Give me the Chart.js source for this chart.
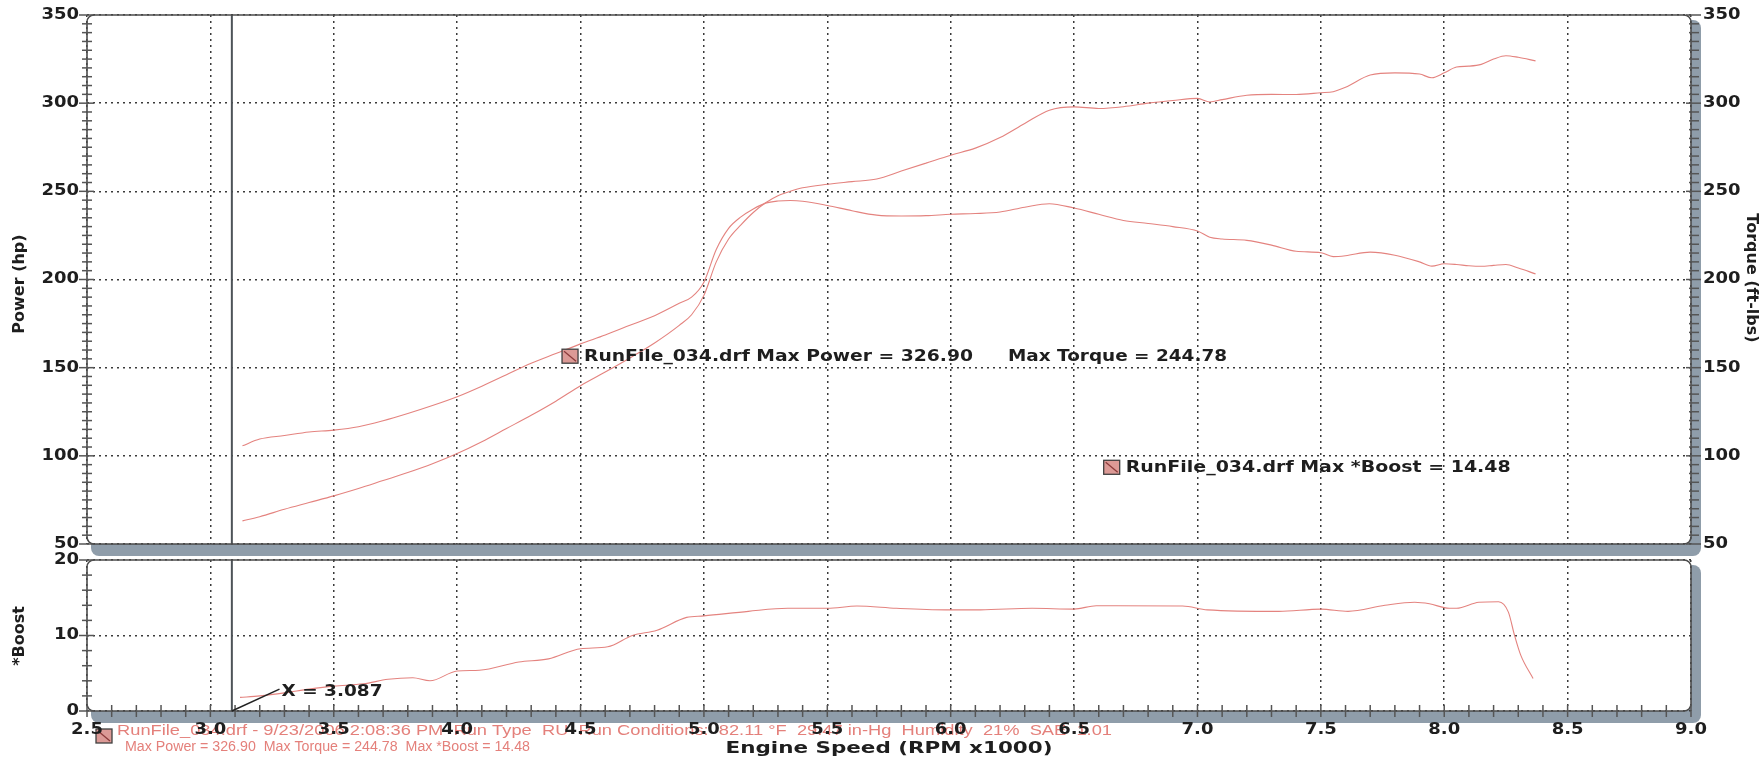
<!DOCTYPE html>
<html>
<head>
<meta charset="utf-8">
<title>Dyno run - RunFile_034</title>
<script src="https://cdn.jsdelivr.net/npm/chart.js@4.4.1/dist/chart.umd.min.js"></script>
<style>
  html, body { margin: 0; padding: 0; background: #fff; }
  #wrap { position: relative; width: 1764px; height: 763px; overflow: hidden; }
  #wrap canvas { position: absolute; left: 0; top: 0; }
</style>
</head>
<body>
<div id="wrap">
  <canvas id="dynoChart" width="1764" height="763"></canvas>
  <canvas id="boostChart" width="1764" height="763"></canvas>
</div>
<script>
// values (rpm in x1000)
const rpm = [3.13, 3.2, 3.3, 3.4, 3.5, 3.6, 3.7, 3.8, 3.9, 4.0,
  4.1, 4.2, 4.3, 4.4, 4.5, 4.6, 4.7, 4.8, 4.9, 4.95,
  5.0, 5.05, 5.1, 5.15, 5.2, 5.25, 5.3, 5.35, 5.4, 5.5,
  5.6, 5.7, 5.8, 5.9, 6.0, 6.1, 6.2, 6.3, 6.4, 6.5,
  6.6, 6.7, 6.8, 6.9, 7.0, 7.05, 7.1, 7.2, 7.3, 7.4,
  7.5, 7.55, 7.6, 7.7, 7.8, 7.9, 7.95, 8.0, 8.05, 8.1,
  8.15, 8.2, 8.25, 8.3, 8.37];
const powerHp = [63.1, 65.5, 69.7, 73.5, 77.3, 81.5, 86, 90.5, 95.5, 101.3,
  108, 115.5, 123, 131, 139.8, 147.5, 155.5, 164, 174, 180,
  191, 210, 223, 231, 238, 243.5, 247.5, 250, 252, 254,
  255.5, 257, 261.5, 266, 270.5, 274.5, 280.5, 288.5, 296, 297.9,
  297, 298, 300, 301.5, 302.7, 300.7, 302, 304.5, 305, 304.9,
  305.9, 306.5, 309, 316, 317.2, 316.5, 314.4, 317.2, 320.5, 321,
  322, 325, 326.9, 326, 324];
const torqueFt = [105.7, 109.5, 111.5, 113.5, 114.6, 116.5, 119.9, 124, 128.5, 133.5,
  139.5, 146, 152.5, 158, 163.5, 168.5, 174, 179.5, 186.5, 190,
  198.5, 217, 229, 235.5, 240, 243.3, 244.5, 244.78, 244.4, 242,
  239, 236.5, 236, 236.2, 237, 237.4, 238.3, 241, 243, 240.5,
  237, 233.5, 231.8, 230, 227.5, 224, 223, 222.2, 219.5, 216,
  215.2, 213, 213.5, 215.5, 213.8, 210, 207.6, 208.9, 208.5, 207.8,
  207.5, 208, 208.5, 206.5, 203.2];
const boostRpm = [3.12, 3.2, 3.3, 3.4, 3.5, 3.62, 3.72, 3.82, 3.89, 4.0,
  4.09, 4.25, 4.37, 4.5, 4.61, 4.71, 4.81, 4.93, 5.0, 5.18,
  5.34, 5.5, 5.62, 5.78, 5.98, 6.12, 6.33, 6.5, 6.59, 6.94,
  7.04, 7.33, 7.5, 7.61, 7.76, 7.88, 7.94, 8.02, 8.05, 8.14,
  8.22, 8.26, 8.285, 8.31, 8.36];
const boostPsi = [1.8, 2.0, 2.4, 2.9, 3.3, 3.6, 4.2, 4.4, 4.0, 5.3,
  5.4, 6.5, 6.9, 8.25, 8.5, 10.0, 10.7, 12.4, 12.6, 13.2,
  13.6, 13.6, 13.9, 13.6, 13.4, 13.4, 13.6, 13.5, 13.95, 13.9,
  13.4, 13.2, 13.5, 13.2, 14.0, 14.4, 14.2, 13.6, 13.6, 14.4,
  14.48, 13.1, 10.0, 7.4, 4.3];

const rpmTickLabels = ['2.5', '3.0', '3.5', '4.0', '4.5', '5.0', '5.5', '6.0', '6.5', '7.0', '7.5', '8.0', '8.5', '9.0'];
const powerTickLabels = ['50', '100', '150', '200', '250', '300', '350'];
const torqueTickLabels = ['50', '100', '150', '200', '250', '300', '350'];
const boostTickLabels = ['0', '10', '20'];

const cursorRpm = 3.087;
const maxPowerText = 'RunFile_034.drf Max Power = 326.90';
const maxTorqueText = 'Max Torque = 244.78';
const maxBoostText = 'RunFile_034.drf Max *Boost = 14.48';
const runInfoText = 'RunFile_034.drf - 9/23/2006 2:08:36 PM  Run Type  RU  Run Conditions:  82.11 °F  29.47 in-Hg  Humidity  21%  SAE  1.01';
const runMaxText = 'Max Power = 326.90  Max Torque = 244.78  Max *Boost = 14.48';

// ---- drawing helpers ----
const INK = '#1e1e1e';
const CURVE = '#e4837f';
const LABEL_FONT = 'bold 15px "DejaVu Sans", Verdana, sans-serif';
const TITLE_FONT = 'bold 16px "DejaVu Sans", Verdana, sans-serif';
const NOTE_FONT = '14px "Liberation Sans", Arial, sans-serif';

function roundRect(ctx, x, y, w, h, r) {
  ctx.beginPath();
  ctx.moveTo(x + r, y);
  ctx.arcTo(x + w, y, x + w, y + h, r);
  ctx.arcTo(x + w, y + h, x, y + h, r);
  ctx.arcTo(x, y + h, x, y, r);
  ctx.arcTo(x, y, x + w, y, r);
  ctx.closePath();
}

// text stretched sideways like the scanned sheet; o.width fits the text to a width
function drawText(ctx, s, x, y, o) {
  ctx.save();
  ctx.font = o.font || LABEL_FONT;
  ctx.fillStyle = o.color || INK;
  ctx.textBaseline = 'middle';
  ctx.textAlign = 'left';
  const w = ctx.measureText(s).width;
  const sx = o.width ? o.width / w : (o.sx || 1);
  let dx = 0;
  if (o.align === 'right') dx = -w * sx;
  if (o.align === 'center') dx = -w * sx / 2;
  ctx.translate(x + dx, y);
  ctx.scale(sx, 1);
  ctx.fillText(s, 0, 0);
  ctx.restore();
}

function drawRotated(ctx, s, x, y, angle) {
  ctx.save();
  ctx.font = TITLE_FONT;
  ctx.fillStyle = INK;
  ctx.textAlign = 'center';
  ctx.textBaseline = 'middle';
  ctx.translate(x, y);
  ctx.rotate(angle);
  ctx.fillText(s, 0, 0);
  ctx.restore();
}

function drawIcon(ctx, x, y) {
  ctx.save();
  ctx.fillStyle = '#dc9a96';
  ctx.fillRect(x, y, 16, 14);
  ctx.strokeStyle = '#404040';
  ctx.lineWidth = 1.3;
  ctx.strokeRect(x, y, 16, 14);
  ctx.beginPath();
  ctx.moveTo(x + 2, y + 2);
  ctx.lineTo(x + 14, y + 12);
  ctx.strokeStyle = '#8c3b3b';
  ctx.stroke();
  ctx.restore();
}

// white rounded panel with a grey-blue drop shadow (right and bottom)
function drawPanel(chart) {
  const { ctx, chartArea: a } = chart;
  ctx.save();
  ctx.fillStyle = '#8f9daa';
  roundRect(ctx, a.left + 4, a.top + 5, a.right - a.left + 6, a.bottom - a.top + 7, 8);
  ctx.fill();
  ctx.fillStyle = '#fff';
  roundRect(ctx, a.left, a.top, a.right - a.left, a.bottom - a.top, 7);
  ctx.fill();
  ctx.restore();
}

function drawBorder(chart) {
  const { ctx, chartArea: a } = chart;
  ctx.save();
  ctx.strokeStyle = '#4b4b4b';
  ctx.lineWidth = 1.6;
  roundRect(ctx, a.left, a.top, a.right - a.left, a.bottom - a.top, 7);
  ctx.stroke();
  ctx.restore();
}

// small tick marks crossing a vertical edge
function valueTicks(ctx, scale, xEdge, step, majorStep) {
  ctx.save();
  ctx.strokeStyle = '#555';
  ctx.lineWidth = 1.5;
  for (let v = scale.min; v <= scale.max + 1e-6; v += step) {
    const y = scale.getPixelForValue(v);
    const major = Math.abs(v / majorStep - Math.round(v / majorStep)) < 1e-6;
    ctx.beginPath();
    ctx.moveTo(xEdge - (major ? 8 : 5), y);
    ctx.lineTo(xEdge + (major ? 7 : 5), y);
    ctx.stroke();
  }
  ctx.restore();
}

function cursorLine(chart) {
  const { ctx, chartArea: a, scales } = chart;
  const x = scales.x.getPixelForValue(cursorRpm);
  ctx.save();
  ctx.strokeStyle = '#4d5358';
  ctx.lineWidth = 2;
  ctx.beginPath();
  ctx.moveTo(x, a.top);
  ctx.lineTo(x, a.bottom);
  ctx.stroke();
  ctx.restore();
}

function setTicks(labels) {
  return axis => { axis.ticks = labels.map(l => ({ value: parseFloat(l) })); };
}

const GRID = { color: '#3a3a3a', lineWidth: 1.5, drawTicks: false };
const DOTTED = { display: false, dash: [2, 4] };
const LINE = { borderColor: CURVE, borderWidth: 1.1, pointRadius: 0, cubicInterpolationMode: 'monotone', fill: false };

// ---- upper panel: power and torque ----
const dynoDecor = {
  id: 'dynoDecor',
  beforeDraw: drawPanel,
  beforeDatasetsDraw: cursorLine,
  afterDraw(chart) {
    const { ctx, chartArea: a, scales } = chart;
    drawBorder(chart);
    valueTicks(ctx, scales.y, a.left, 5, 50);
    valueTicks(ctx, scales.y1, a.right + 3, 5, 50);

    powerTickLabels.forEach(l => {
      drawText(ctx, l, a.left - 8, scales.y.getPixelForValue(parseFloat(l)), { align: 'right', sx: 1.2 });
    });
    torqueTickLabels.forEach(l => {
      drawText(ctx, l, a.right + 12, scales.y1.getPixelForValue(parseFloat(l)), { sx: 1.2 });
    });
    drawRotated(ctx, 'Power (hp)', 20, 284, -Math.PI / 2);
    drawRotated(ctx, 'Torque (ft-lbs)', 1751, 278, Math.PI / 2);

    // peak readouts
    const x1 = scales.x.getPixelForValue(4.425);
    const y1 = scales.y.getPixelForValue(156.5);
    drawIcon(ctx, x1, y1 - 7);
    drawText(ctx, maxPowerText, x1 + 22, y1 + 1, { font: TITLE_FONT, width: 389 });
    drawText(ctx, maxTorqueText, x1 + 446, y1 + 1, { font: TITLE_FONT, width: 219 });

    const x2 = scales.x.getPixelForValue(6.62);
    const y2 = scales.y.getPixelForValue(93.5);
    drawIcon(ctx, x2, y2 - 7);
    drawText(ctx, maxBoostText, x2 + 22, y2 + 1, { font: TITLE_FONT, width: 385 });
  }
};

new Chart(document.getElementById('dynoChart'), {
  type: 'line',
  data: {
    datasets: [
      { label: 'Power (hp)', data: rpm.map((r, i) => ({ x: r, y: powerHp[i] })), yAxisID: 'y', ...LINE },
      { label: 'Torque (ft-lbs)', data: rpm.map((r, i) => ({ x: r, y: torqueFt[i] })), yAxisID: 'y1', ...LINE }
    ]
  },
  options: {
    responsive: false,
    animation: false,
    events: [],
    layout: { padding: { top: 15, bottom: 219, left: 0, right: 0 } },
    scales: {
      x: {
        type: 'linear', min: 2.5, max: 9,
        afterBuildTicks: setTicks(rpmTickLabels),
        ticks: { display: false }, grid: GRID, border: DOTTED,
        afterFit: s => { s.height = 0; }
      },
      y: {
        position: 'left', min: 50, max: 350,
        afterBuildTicks: setTicks(powerTickLabels),
        ticks: { display: false }, grid: GRID, border: DOTTED,
        afterFit: s => { s.width = 87; }
      },
      y1: {
        position: 'right', min: 50, max: 350,
        afterBuildTicks: setTicks(torqueTickLabels),
        ticks: { display: false }, grid: { display: false }, border: { display: false },
        afterFit: s => { s.width = 73; }
      }
    },
    plugins: { legend: { display: false }, tooltip: { enabled: false } }
  },
  plugins: [dynoDecor]
});

// ---- lower panel: boost ----
const boostDecor = {
  id: 'boostDecor',
  beforeDraw: drawPanel,
  beforeDatasetsDraw: cursorLine,
  afterDraw(chart) {
    const { ctx, chartArea: a, scales } = chart;
    drawBorder(chart);
    valueTicks(ctx, scales.y, a.left, 2, 10);

    // rpm ticks every 100 along the bottom edge
    ctx.save();
    ctx.strokeStyle = '#555';
    ctx.lineWidth = 1.5;
    for (let i = 0; i <= 65; i++) {
      const x = scales.x.getPixelForValue(2.5 + i * 0.1);
      ctx.beginPath();
      ctx.moveTo(x, a.bottom - 6);
      ctx.lineTo(x, a.bottom + 6);
      ctx.stroke();
    }
    ctx.restore();

    boostTickLabels.forEach(l => {
      drawText(ctx, l, a.left - 8, scales.y.getPixelForValue(parseFloat(l)), { align: 'right', sx: 1.2 });
    });
    drawRotated(ctx, '*Boost', 20, 636, -Math.PI / 2);

    // run details in red under the axis
    drawIcon(ctx, 96, 729);
    drawText(ctx, runInfoText, 117, 731, { font: NOTE_FONT, color: '#e4807b', width: 995 });
    drawText(ctx, runMaxText, 125, 747, { font: NOTE_FONT, color: '#e4807b', width: 405 });

    rpmTickLabels.forEach(l => {
      drawText(ctx, l, scales.x.getPixelForValue(parseFloat(l)), a.bottom + 19, { align: 'center', sx: 1.2 });
    });
    drawText(ctx, 'Engine Speed (RPM x1000)', (a.left + a.right) / 2, 749, { align: 'center', font: TITLE_FONT, width: 327 });

    // cursor readout
    const cx = scales.x.getPixelForValue(cursorRpm);
    const lx = scales.x.getPixelForValue(3.28);
    const ly = scales.y.getPixelForValue(2.9);
    ctx.save();
    ctx.strokeStyle = '#222';
    ctx.lineWidth = 1.5;
    ctx.beginPath();
    ctx.moveTo(cx, a.bottom);
    ctx.lineTo(lx, ly);
    ctx.stroke();
    ctx.restore();
    drawText(ctx, 'X = 3.087', lx + 2, ly + 3, { width: 101 });
  }
};

new Chart(document.getElementById('boostChart'), {
  type: 'line',
  data: {
    datasets: [
      { label: '*Boost', data: boostRpm.map((r, i) => ({ x: r, y: boostPsi[i] })), ...LINE }
    ]
  },
  options: {
    responsive: false,
    animation: false,
    events: [],
    layout: { padding: { top: 560, bottom: 52, left: 0, right: 73 } },
    scales: {
      x: {
        type: 'linear', min: 2.5, max: 9,
        afterBuildTicks: setTicks(rpmTickLabels),
        ticks: { display: false }, grid: GRID, border: DOTTED,
        afterFit: s => { s.height = 0; }
      },
      y: {
        position: 'left', min: 0, max: 20,
        afterBuildTicks: setTicks(boostTickLabels),
        ticks: { display: false }, grid: GRID, border: DOTTED,
        afterFit: s => { s.width = 87; }
      }
    },
    plugins: { legend: { display: false }, tooltip: { enabled: false } }
  },
  plugins: [boostDecor]
});
</script>
</body>
</html>
